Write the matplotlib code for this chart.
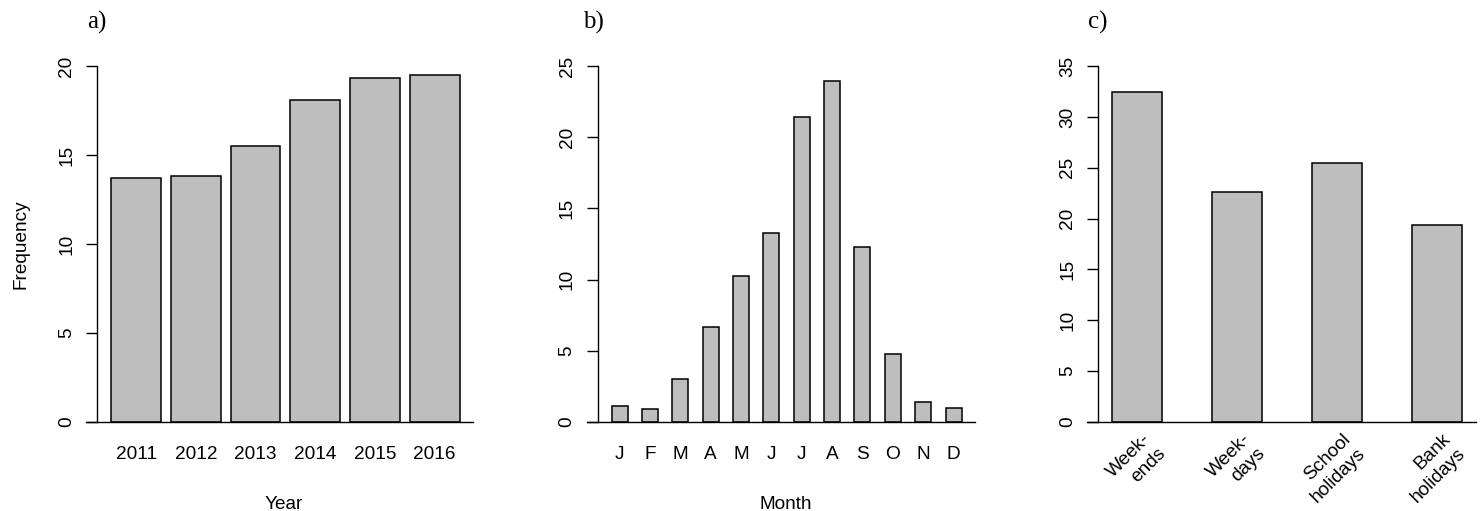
import numpy as np
import matplotlib
matplotlib.use('Agg')
import matplotlib.pyplot as plt
from matplotlib.transforms import ScaledTranslation

# Frequências por ano, por mês e por tipo de dia
years = ['2011', '2012', '2013', '2014', '2015', '2016']
year_freq = [13.7, 13.84, 15.5, 18.1, 19.35, 19.48]

months = ['J', 'F', 'M', 'A', 'M', 'J', 'J', 'A', 'S', 'O', 'N', 'D']
month_freq = [1.12, 0.89, 3.0, 6.63, 10.26, 13.26, 21.46, 23.96, 12.32, 4.78, 1.36, 0.98]

day_types = ['Week-\nends', 'Week-\ndays', 'School\nholidays', 'Bank\nholidays']
day_freq = [32.5, 22.6, 25.5, 19.35]

W, H, DPI = 1483, 511, 100
BAR_COLOR = '#BEBEBE'
LW = 1.0
FS = 13.7

plt.rcParams['font.family'] = 'Liberation Sans'
fig = plt.figure(figsize=(W / DPI, H / DPI), dpi=DPI)


def fx(px):
    return px / W


def fy(py):
    return 1 - py / H


def panel(left_px, right_px):
    # região de plotagem em pixels (topo 52, base 436)
    return fig.add_axes([fx(left_px), fy(436), (right_px - left_px) / W, (436 - 52) / H])


def barplot_r(ax, heights, space, ymax):
    """Imita o barplot do R: largura 1, espaçamento 'space', eixos com 4% de folga"""
    n = len(heights)
    left = space + np.arange(n) * (1 + space)
    mids = left + 0.5
    ax.bar(mids, heights, width=1.0, color=BAR_COLOR, edgecolor='black', linewidth=1.1, zorder=2)
    lo, hi = left[0], left[-1] + 1
    pad = 0.04 * (hi - lo)
    ax.set_xlim(lo - pad, hi + pad)
    ax.set_ylim(-0.04 * ymax, 1.04 * ymax)

    for s in ['top', 'right', 'bottom']:
        ax.spines[s].set_visible(False)
    ax.spines['left'].set_bounds(0, ymax)
    ax.spines['left'].set_linewidth(LW)

    ax.set_yticks(np.arange(0, ymax + 1, 5))
    ax.tick_params(axis='y', length=7.9, width=LW, pad=8.0, labelsize=FS, labelrotation=90)
    for lbl in ax.get_yticklabels():
        lbl.set_va('center')

    # linha de base em y=0, um pouco à esquerda do eixo
    frac = 11 / (ax.get_position().width * W)
    ax.plot([-frac, 1], [0, 0], transform=ax.get_yaxis_transform(),
            color='black', lw=LW, clip_on=False, zorder=3)
    return mids


# a) por ano
ax1 = panel(97.3, 473.5)
mids = barplot_r(ax1, year_freq, 0.2, 20)
ax1.set_xticks(mids, years)
ax1.tick_params(axis='x', length=0, pad=7.5, labelsize=FS)

# b) por mês
ax2 = panel(597.7, 975.5)
mids = barplot_r(ax2, month_freq, 0.9, 25)
ax2.set_xticks(mids, months)
ax2.tick_params(axis='x', length=0, pad=7.5, labelsize=FS)

# c) por tipo de dia, rótulos inclinados
ax3 = panel(1098.3, 1476.3)
mids = barplot_r(ax3, day_freq, 1.0, 35)
ax3.set_xticks([])
shift = ScaledTranslation(18 / DPI, -22 / DPI, fig.dpi_scale_trans)
for m, lab in zip(mids, day_types):
    ax3.text(m, 0, lab, transform=ax3.transData + shift, rotation=45,
             rotation_mode='anchor', ha='right', va='center', multialignment='right',
             fontsize=FS, linespacing=1.3)

# títulos dos eixos
fig.text(fx(25.5), fy(244), 'Frequency', rotation=90, rotation_mode='anchor',
         ha='center', va='baseline', fontsize=FS)
fig.text(fx(284), fy(508.5), 'Year', ha='center', va='baseline', fontsize=FS)
fig.text(fx(786), fy(508.5), 'Month', ha='center', va='baseline', fontsize=FS)

# letras dos painéis
for x, t in [(87, 'a)'), (583, 'b)'), (1088, 'c)')]:
    fig.text(fx(x), fy(29), t, ha='left', va='baseline', fontsize=18, family='Liberation Serif')

fig.savefig('out.png', dpi=DPI)
